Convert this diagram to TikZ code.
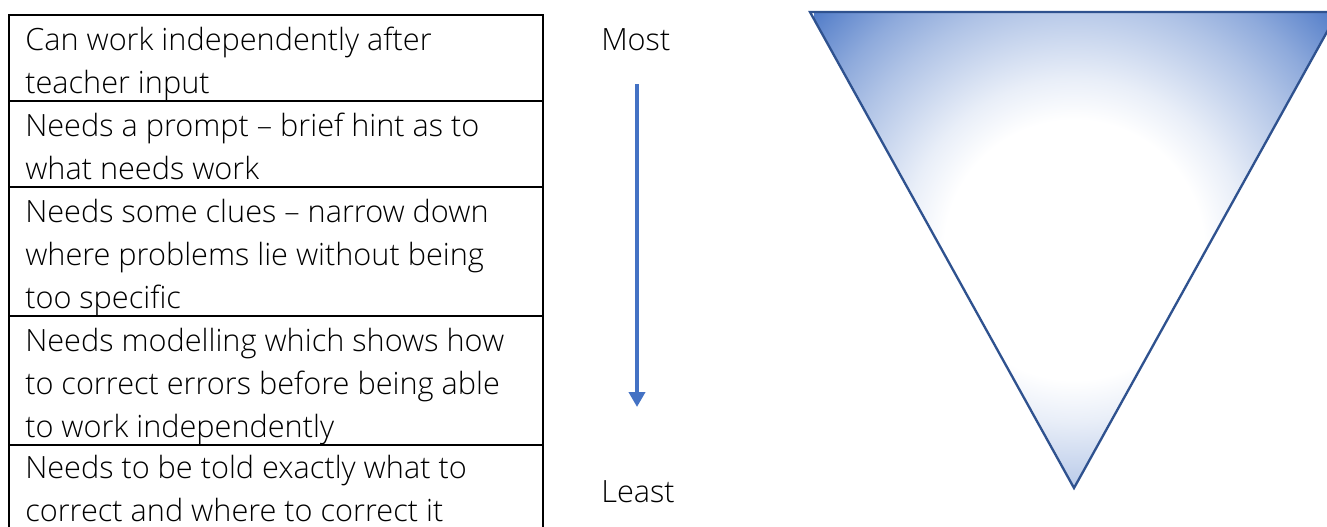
\documentclass[tikz,border=0pt]{standalone}
\usepackage{fontspec}
\IfFontExistsTF{Open Sans Light}{\setmainfont{Open Sans Light}}{\setmainfont{Open Sans}}
\usetikzlibrary{arrows.meta}
\definecolor{accblue}{HTML}{4472C4}
\definecolor{edgeblue}{HTML}{2F528F}
\pgfdeclareradialshading{triShade}{\pgfpoint{0bp}{0bp}}{%
  color(0bp)=(white); color(12.5bp)=(white); color(16.5bp)=(accblue!12);
  color(20.5bp)=(accblue!28); color(24bp)=(accblue!42); color(28bp)=(accblue!60);
  color(32bp)=(accblue!82); color(35bp)=(accblue); color(50bp)=(accblue)}
\newcommand{\rowtext}[1]{\parbox[t]{395pt}{\raggedright #1}}
\begin{document}
\begin{tikzpicture}[x=0.75pt,y=-0.75pt,
  font=\fontsize{23pt}{32.25pt}\selectfont,
  cell/.style={draw=black, line width=1.1pt, minimum width=400.5pt, anchor=north west, inner sep=0pt, outer sep=0pt},
  celltext/.style={anchor=base west, inner sep=0pt, text=black},
  sidelabel/.style={anchor=base west, inner sep=0pt, text=black},
  flowarrow/.style={draw=accblue, line width=3pt, -{Triangle[length=11.25pt,width=12pt]}}]
\useasboundingbox (0,0) rectangle (1327,526);
\fill[white] (0,0) rectangle (1327,526);
% table rows
\node[cell, minimum height=64.5pt] (r1) at (9,15) {};
\node[cell, minimum height=64.5pt] (r2) at (9,101) {};
\node[cell, minimum height=96.75pt] (r3) at (9,187) {};
\node[cell, minimum height=96.75pt] (r4) at (9,316) {};
\node[cell, minimum height=64.5pt] (r5) at (9,445) {};
% row texts
\node[celltext] (t1) at (25,50) {\rowtext{Can work independently after\\teacher input}};
\node[celltext] (t2) at (25,136) {\rowtext{Needs a prompt – brief hint as to\\what needs work}};
\node[celltext] (t3) at (25,222) {\rowtext{Needs some clues – narrow down\\where problems lie without being\\too specific}};
\node[celltext] (t4) at (25,351) {\rowtext{Needs modelling which shows how\\to correct errors before being able\\to work independently}};
\node[celltext] (t5) at (25,478) {\rowtext{Needs to be told exactly what to\\correct and where to correct it}};
% scale labels and arrow
\node[sidelabel] (most) at (601,50) {Most};
\node[sidelabel] (least) at (601,502) {Least};
\coordinate (atop) at (637,84);
\coordinate (abot) at (637,407);
\draw[flowarrow] (atop) -- (abot);
% inverted triangle
\coordinate (tl) at (810,12);
\coordinate (tr) at (1338,12);
\coordinate (ap) at (1074,488);
\begin{scope}
  \clip (tl) -- (tr) -- (ap) -- cycle;
  \shade[shading=triShade] (814,-10) rectangle (1334,510);
\end{scope}
\draw[edgeblue, line width=1.75pt, line join=miter] (tl) -- (tr) -- (ap) -- cycle;
\end{tikzpicture}
\end{document}
